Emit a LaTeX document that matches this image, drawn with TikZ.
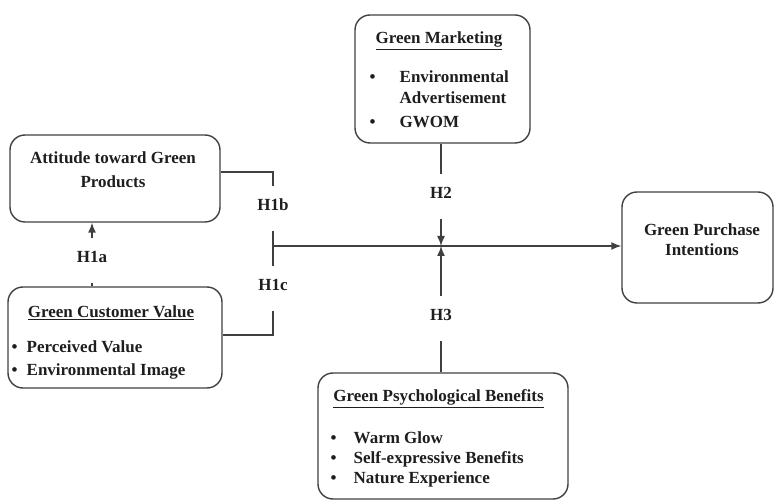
\documentclass[tikz,border=0pt]{standalone}
\usepackage{fontspec}
\setmainfont{Liberation Serif}
\usepackage{xcolor}
\usepackage{tikz}
\usetikzlibrary{arrows.meta,shapes}
\definecolor{lineclr}{HTML}{404040}
\definecolor{txtclr}{HTML}{1E1E1E}

\begin{document}
\begin{tikzpicture}[x=1pt, y=-1pt, line width=1.4pt,
                    every node/.style={font=\bfseries\fontsize{17}{21}\selectfont,
                    text=txtclr},
                    box/.style={draw=lineclr, rounded corners=15pt, inner sep=0pt},
                    hlab/.style={inner xsep=2pt, inner ysep=11.5pt,
                    text height=12pt, text depth=8pt},
                    conn/.style={draw=lineclr},
                    arr/.style={draw=lineclr, -{Latex[length=10pt,width=8pt]}}]
\useasboundingbox (0,0) rectangle (774,502);
% boxes
\node[box, minimum width=210pt, minimum height=87pt] (att) at (115,178.5) {};
\node[box, minimum width=214pt, minimum height=101pt] (gcv) at (115,337.5) {};
\node[box, minimum width=175pt, minimum height=128pt] (gm) at (442.5,79) {};
\node[box, minimum width=250pt, minimum height=126pt] (gpb) at (443,436) {};
\node[box, minimum width=151pt, minimum height=111pt] (gpi) at (697.5,247.5) {};
% box texts
\node[align=center, anchor=north, inner sep=0pt] (attT) at (113,151)
     {Attitude toward Green\\[3pt]Products};
\node[anchor=base, inner sep=0pt] (gcvT) at (111,318) {\underline{Green Customer Value}};
\node[align=left, anchor=north west, inner sep=0pt] (gcvL) at (11,340)
     {\makebox[15pt][l]{\textbullet}Perceived Value\\[2pt]
      \makebox[15pt][l]{\textbullet}Environmental Image};
\node[anchor=base, inner sep=0pt] (gmT) at (439,44) {\underline{Green Marketing}};
\node[align=left, anchor=north west, inner sep=0pt] (gmL) at (369,70)
     {\makebox[30pt][l]{\textbullet}Environmental\\
      \hspace*{30pt}Advertisement\\[3pt]
      \makebox[30pt][l]{\textbullet}GWOM};
\node[anchor=base, inner sep=0pt] (gpbT) at (438.5,402)
     {\underline{Green Psychological Benefits}};
\node[align=left, anchor=north west, inner sep=0pt] (gpbL) at (330,431)
     {\makebox[23pt][l]{\textbullet}Warm Glow\\[-1pt]
      \makebox[23pt][l]{\textbullet}Self-expressive Benefits\\[-1pt]
      \makebox[23pt][l]{\textbullet}Nature Experience};
\node[align=center, anchor=north, inner sep=0pt] (gpiT) at (702,223)
     {Green Purchase\\[-1pt]Intentions};
% hypothesis labels
\node[hlab] (h1a) at (92,260.5) {H1a};
\node[hlab] (h1b) at (273,208.5) {H1b};
\node[hlab] (h1c) at (273,288.5) {H1c};
\node[hlab] (h2) at (441,196.5) {H2};
\node[hlab] (h3) at (441,318.5) {H3};
\coordinate (jn) at (273,246);
% connectors
\draw[arr] (h1a.north) -- (h1a.north |- att.south);
\draw[conn] (h1a.south) -- (h1a.south |- gcv.north);
\draw[conn] ([yshift=6.5pt]att.east) -| (h1b.north);
\draw[conn] (h1b.south) -- (h1c.north);
\draw[conn] (h1c.south) |- ([yshift=2.5pt]gcv.east);
\draw[arr] (jn) -- (jn -| gpi.west);
\draw[conn] (h2 |- gm.south) -- (h2.north);
\draw[arr] (h2.south) -- (h2 |- jn);
\draw[conn] (h3 |- gpb.north) -- (h3.south);
\draw[arr] (h3.north) -- (h3 |- jn);
\end{tikzpicture}
\end{document}
